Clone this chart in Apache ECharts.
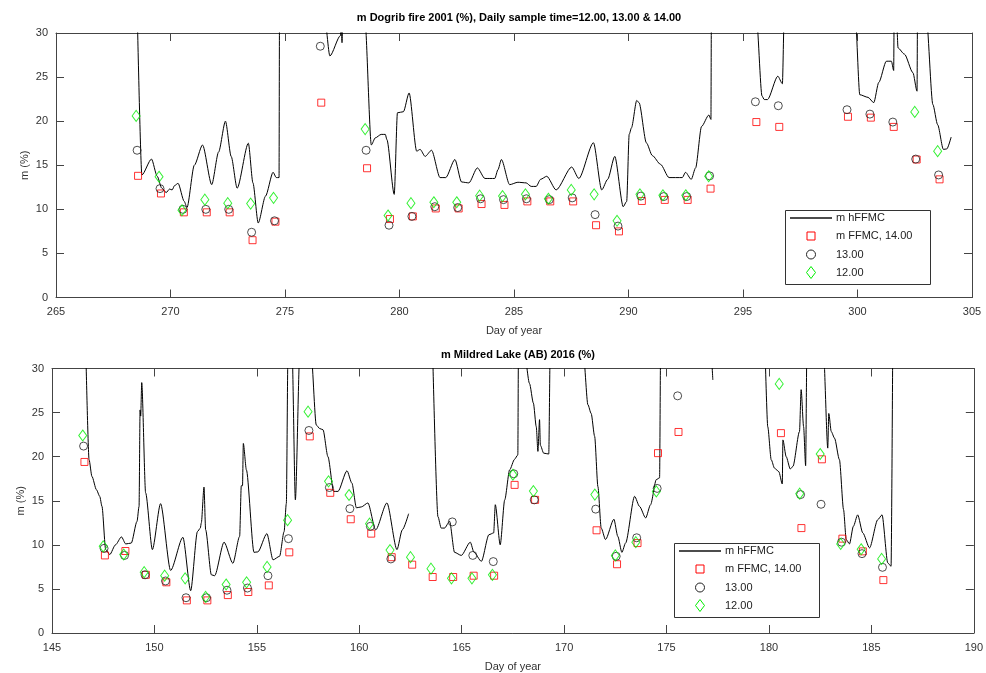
<!DOCTYPE html>
<html>
<head>
<meta charset="utf-8">
<script src="https://cdn.jsdelivr.net/npm/echarts@6/dist/echarts.min.js"></script>
<style>
html,body{margin:0;padding:0;background:#fff;}
#c{width:986px;height:673px;}
</style>
</head>
<body>
<div id="c"></div>
<script>
// ---------- Top panel: Dogrib fire 2001 ----------
const topTitle = 'm Dogrib fire 2001 (%), Daily sample time=12.00, 13.00 & 14.00';
const topDays = [268,269,270,271,272,273,274,276,278,279,280,281,282,283,284,285,286,287,288,289,290,291,292,293,295,296,299,300,301,302,303];
const top14 = [13.8,11.8,9.66,9.66,9.66,6.5,8.6,22.1,14.66,8.9,9.2,10.1,10.1,10.6,10.5,10.9,10.9,10.9,8.2,7.5,10.95,11.07,11.07,12.35,19.9,19.35,20.5,20.4,19.35,15.65,13.4];
const top13 = [16.7,12.35,10.0,10.0,10.0,7.4,8.7,28.5,16.7,8.2,9.2,10.3,10.2,11.2,11.1,11.2,11.1,11.3,9.4,8.1,11.5,11.45,11.45,13.8,22.2,21.75,21.3,20.8,19.9,15.7,13.9];
const top12 = [20.6,13.7,9.9,11.1,10.7,10.65,11.3,null,19.1,9.3,10.7,10.8,10.8,11.55,11.5,11.7,11.2,12.2,11.7,8.7,11.7,11.6,11.6,13.75,null,null,null,null,null,21.05,16.6];

const topLineDay = [268.55,268.75,269.17,269.42,269.62,269.81,269.96,270.07,270.18,270.33,270.6,270.72,271.04,271.4,271.8,272.1,272.4,272.65,272.91,273.4,273.6,273.83,274.15,274.48,274.62,274.74,274.76,
 276.72,276.96,277.42,277.45,277.48,277.49,277.52,278.48,278.77,278.94,279.2,279.38,279.45,279.77,279.91,280.17,280.42,280.75,280.9,281.12,281.4,281.77,282.02,282.42,282.71,283.03,283.4,283.73,284.16,284.3,284.45,284.81,285.17,285.53,285.75,285.97,286.16,286.43,286.84,287.52,287.83,288.47,288.83,289.09,289.4,289.77,289.92,290.03,290.13,290.36,290.46,290.78,291.04,291.4,291.77,292.35,292.49,292.74,292.93,293.19,293.51,293.6,293.62,
 295.58,295.83,295.93,296.07,296.52,296.72,296.8,299.9,300.1,300.46,300.71,300.93,301.26,301.48,301.58,301.6,301.7,301.77,302.05,302.42,302.6,302.62,303.0,303.29,303.5,303.75,303.9,304.09];
const topLineM = [32,13.9,15.7,13.75,12.4,11.9,12.3,12.2,12.7,12.95,10.9,10.2,15.0,17.3,12.8,16.5,20.0,16.0,12.4,17.5,13.0,8.45,11.5,14.2,13.6,13.6,32,
 32,27.4,29.7,32,32,28.9,32,32,17.3,18.1,18.5,18.5,17.9,11.7,20.95,21.07,23.2,16.6,16.8,16.0,16.7,13.6,13.6,15.65,13.1,13.0,14.7,13.5,13.5,14.5,15.65,12.8,13.07,13.0,12.6,12.6,13.4,13.75,12.2,14.8,13.5,17.55,12.2,13.4,16.0,10.3,10.9,18.5,19.25,22.35,22.1,17.55,16.1,15.1,13.6,13.6,14.2,13.4,14.7,19.4,20.7,20.2,32,
 32,22.85,22.45,22.45,25.1,24.25,32,32,23.0,22.7,22.1,24.4,26.8,26.8,25.75,32,32,28.3,27.6,25.5,23.4,32,32,21.9,19.6,16.8,16.85,18.2];

// ---------- Bottom panel: Mildred Lake 2016 ----------
const botTitle = 'm Mildred Lake (AB) 2016 (%)';
const botDays = [146,147,148,149,150,151,152,153,154,155,156,157,158,159,160,161,162,163,164,165,166,167,168,171,172,173,174,175,180,181,182,183,184,185];
const bot14 = [19.4,8.8,9.3,6.6,5.75,3.7,3.7,4.3,4.65,5.4,9.15,22.3,15.9,12.9,11.27,8.6,7.75,6.35,6.35,6.5,6.5,16.8,15.1,11.65,7.8,10.2,20.4,22.8,22.67,11.9,19.7,10.7,9.26,6.0];
const bot13 = [21.2,9.6,8.8,6.6,5.9,4.0,4.0,4.85,5.1,6.5,10.7,22.97,16.5,14.1,12.1,8.4,null,null,12.6,8.8,8.1,18.06,15.1,14.05,8.7,10.8,16.4,26.9,null,15.7,14.6,10.3,9.0,7.45];
const bot12 = [22.4,9.83,8.9,6.9,6.5,6.2,4.1,5.5,5.75,7.5,12.8,25.1,17.2,15.65,12.4,9.4,8.6,7.3,6.2,6.2,6.6,17.95,16.1,15.7,8.8,10.3,16.06,null,28.25,15.8,20.3,10.1,9.5,8.4];

const botLineDay = [146.65,146.81,146.95,147.17,147.33,147.44,147.62,147.82,148.1,148.39,148.6,148.87,149.15,149.25,149.3,149.33,149.38,149.57,149.9,150.3,150.79,151.39,151.77,152.1,152.24,152.29,152.42,152.5,152.78,152.94,153.4,153.83,154.16,154.24,154.3,154.34,154.49,154.86,155.05,155.49,155.79,156.11,156.33,156.44,156.52,
 156.72,156.88,157.1,157.64,157.9,158.06,158.23,158.47,158.75,158.96,159.4,159.64,159.86,160.1,160.42,160.8,161.35,161.84,162.1,162.41,162.9,
 163.58,163.84,164.0,164.16,164.41,164.65,164.98,165.42,165.6,165.96,166.33,166.56,166.64,166.88,167.1,167.34,167.58,167.74,167.77,168.05,168.31,168.5,168.64,168.72,168.8,168.84,169.0,169.25,169.32,
 170.93,171.16,171.32,171.49,171.65,171.81,172.02,172.43,172.62,172.82,173.0,173.44,173.68,173.98,174.22,174.5,174.66,174.71,177.16,177.26,178.5,
 179.81,179.94,180.11,180.27,180.48,180.65,180.68,180.84,181.04,181.17,181.49,181.57,181.69,181.79,181.85,182.66,182.87,182.92,183.04,183.2,183.44,183.64,183.77,183.93,184.12,184.33,184.58,184.91,185.31,185.52,185.8,185.96,186.04];
const botLineM = [32,19.65,17.76,16.25,15.5,14.36,9.46,8.9,10.0,10.9,10.1,10.2,12.66,14.36,25.3,24.6,28.4,15.9,9.46,14.67,7.1,10.85,4.8,11.5,11.9,12.5,16.55,11.7,6.6,6.5,10.3,7.9,10.96,16.7,16.7,21.5,18.5,9.15,9.2,11.27,8.3,8.7,11.5,14.7,32,
 32,15.1,32,32,23.6,23.2,23.05,20.0,16.06,16.06,18.4,17.0,14.2,14.3,14.75,11.7,14.75,9.46,11.7,13.53,null,
 32,13.2,11.9,11.9,12.66,9.15,8.8,10.3,9.15,8.13,11.15,11.35,14.55,10.0,15.1,18.5,19.7,20.2,32,32,28.3,26.07,23.4,20.6,24.2,21.3,20.4,20.3,32,
 32,25.9,24.9,22.3,16.6,11.9,10.6,12.9,10.96,9.15,10.2,15.5,14.36,13.05,14.55,17.4,17.6,32,32,28.7,null,
 32,23.4,19.65,18.7,18.3,16.9,21.9,20.0,18.6,18.9,22.85,27.6,23.4,18.97,32,32,20.97,24.9,22.85,22.1,19.65,14.0,10.6,10.1,12.1,13.4,11.35,9.65,12.85,13.4,7.95,7.57,32];

const yTicks = [0, 30, 5];
const topX = [265, 305, 5];
const botX = [145, 190, 5];
const sampleHours = [14, 13, 12];
const seriesNames = ['m hFFMC', 'm FFMC, 14.00', '13.00', '12.00'];

// ---------- build ----------
const FONT = 'Liberation Sans, Arial, Helvetica, sans-serif';
const AX = '#444';
const RED = '#ff0000', BLK = '#222', GRN = '#00ee00';
function pairs(xs, ys){ return xs.map((x,i)=>[x, ys[i]]); }
function samples(days, vals, hour){
  const out = [];
  days.forEach((d,i)=>{ if (vals[i] !== null) out.push([d + hour/24, vals[i]]); });
  return out;
}
function xAx(gi, range, pos, showLabel, name){
  return {
    type:'value', gridIndex:gi, position:pos, min:range[0], max:range[1], interval:range[2],
    axisLine:{show:true, onZero:false, lineStyle:{color:AX, width:1}},
    axisTick:{show:true, inside:true, length:8, lineStyle:{color:AX}},
    axisLabel:{show:showLabel, color:'#333', fontSize:11, fontFamily:FONT, margin:9},
    splitLine:{show:false},
    name: name || '', nameLocation:'middle', nameGap:28,
    nameTextStyle:{color:'#333', fontSize:11, fontFamily:FONT}
  };
}
function yAx(gi, pos, showLabel, name){
  return {
    type:'value', gridIndex:gi, position:pos, min:yTicks[0], max:yTicks[1], interval:yTicks[2],
    axisLine:{show:true, onZero:false, lineStyle:{color:AX, width:1}},
    axisTick:{show:true, inside:true, length:8, lineStyle:{color:AX}},
    axisLabel:{show:showLabel, color:'#333', fontSize:11, fontFamily:FONT, margin:8},
    splitLine:{show:false},
    name: name || '', nameLocation:'middle', nameGap:26, nameMoveOverlap:false,
    nameTextStyle:{color:'#333', fontSize:11, fontFamily:FONT}
  };
}
function panelSeries(xi, yi, lineD, lineM, days, v14, v13, v12){
  return [
    {name:seriesNames[0], type:'line', xAxisIndex:xi, yAxisIndex:yi, data:pairs(lineD, lineM),
     symbol:'none', showSymbol:false, connectNulls:false, clip:true, smooth:0.25, smoothMonotone:'x',
     lineStyle:{color:'#000', width:1}, itemStyle:{color:'#000'}, z:2},
    {name:seriesNames[1], type:'scatter', xAxisIndex:xi, yAxisIndex:yi, data:samples(days, v14, sampleHours[0]),
     symbol:'rect', symbolSize:7, itemStyle:{color:'rgba(255,255,255,0)', borderColor:RED, borderWidth:1}, z:3},
    {name:seriesNames[2], type:'scatter', xAxisIndex:xi, yAxisIndex:yi, data:samples(days, v13, sampleHours[1]),
     symbol:'circle', symbolSize:8, itemStyle:{color:'rgba(255,255,255,0)', borderColor:BLK, borderWidth:1}, z:4},
    {name:seriesNames[3], type:'scatter', xAxisIndex:xi, yAxisIndex:yi, data:samples(days, v12, sampleHours[2]),
     symbol:'diamond', symbolSize:[8,11], itemStyle:{color:'rgba(255,255,255,0)', borderColor:GRN, borderWidth:1}, z:5}
  ];
}
// legend box drawn as graphic (key only, not data)
function legendBox(x, y){
  const rows = [8, 26, 44.5, 62.5];
  const mx = 26, tx = 51;
  const txt = (i)=>({type:'text', x:tx, y:rows[i], style:{text:seriesNames[i], fill:'#222', font:'11px '+FONT, textVerticalAlign:'middle'}});
  return {
    type:'group', x:x, y:y, z:100,
    children:[
      {type:'rect', shape:{x:0.5, y:0.5, width:145, height:74}, style:{fill:'#fff', stroke:'#333', lineWidth:1}},
      {type:'line', shape:{x1:5, y1:rows[0], x2:47, y2:rows[0]}, style:{stroke:'#111', lineWidth:1.3}},
      txt(0),
      {type:'rect', shape:{x:mx-4, y:rows[1]-4, width:8, height:8}, style:{fill:'none', stroke:RED, lineWidth:1}},
      txt(1),
      {type:'circle', shape:{cx:mx, cy:rows[2], r:4.5}, style:{fill:'none', stroke:BLK, lineWidth:1}},
      txt(2),
      {type:'polygon', shape:{points:[[mx, rows[3]-6],[mx+4.5, rows[3]],[mx, rows[3]+6],[mx-4.5, rows[3]]]}, style:{fill:'none', stroke:GRN, lineWidth:1}},
      txt(3)
    ]
  };
}

const chart = echarts.init(document.getElementById('c'), null, {renderer:'canvas'});
chart.setOption({
  animation:false,
  backgroundColor:'#fff',
  title:[
    {text:topTitle, left:514, top:7, textAlign:'center', textStyle:{fontSize:11, fontWeight:'bold', color:'#000', fontFamily:FONT}},
    {text:botTitle, left:513, top:344, textAlign:'center', textStyle:{fontSize:11, fontWeight:'bold', color:'#000', fontFamily:FONT}}
  ],
  grid:[
    {left:56, top:33, width:916, height:264.5},
    {left:52, top:368.5, width:922, height:265}
  ],
  xAxis:[
    xAx(0, topX, 'bottom', true, 'Day of year'),
    xAx(0, topX, 'top', false),
    xAx(1, botX, 'bottom', true, 'Day of year'),
    xAx(1, botX, 'top', false)
  ],
  yAxis:[
    yAx(0, 'left', true, 'm (%)'),
    yAx(0, 'right', false),
    yAx(1, 'left', true, 'm (%)'),
    yAx(1, 'right', false)
  ],
  graphic:[ legendBox(785, 210), legendBox(674, 543) ],
  series: [].concat(
    panelSeries(0, 0, topLineDay, topLineM, topDays, top14, top13, top12),
    panelSeries(2, 2, botLineDay, botLineM, botDays, bot14, bot13, bot12)
  )
});
</script>
</body>
</html>
